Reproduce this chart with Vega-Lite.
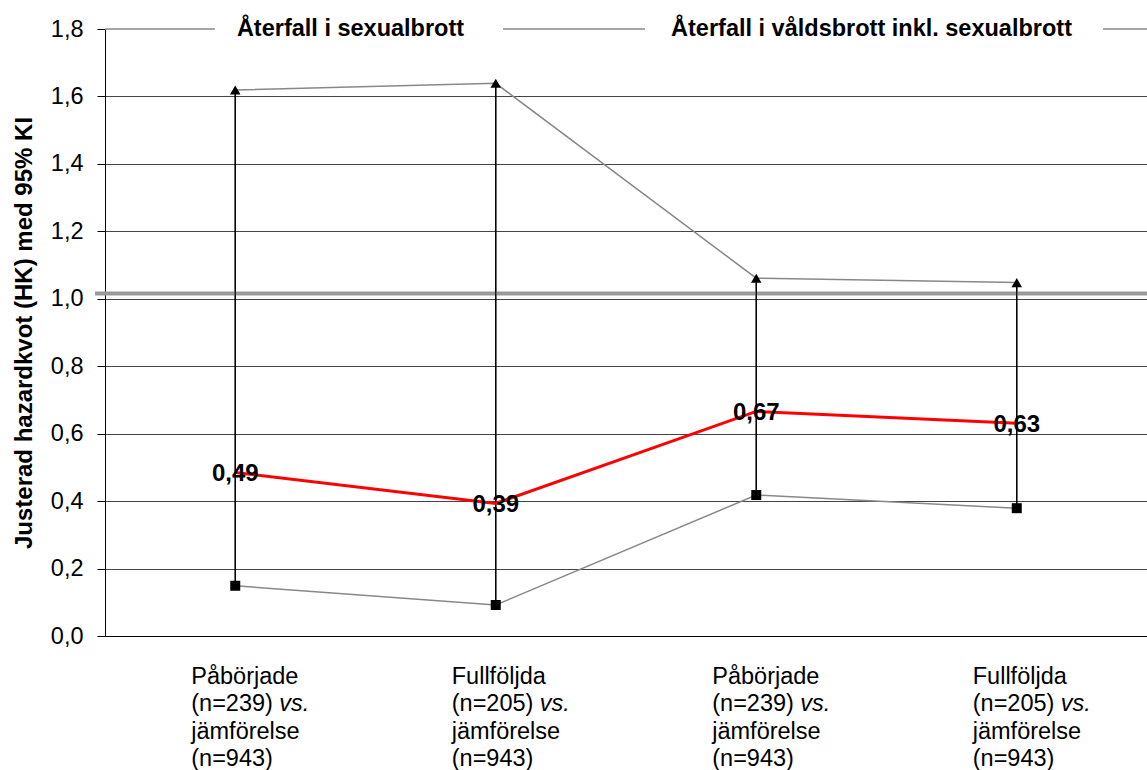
{
  "$schema": "https://vega.github.io/schema/vega-lite/v6.json",
  "width": 1042,
  "height": 607,
  "autosize": {"type": "none"},
  "padding": {"left": 105, "top": 29, "right": 0, "bottom": 134},
  "background": "white",
  "config": {"font": "Liberation Sans", "view": {"stroke": null}},
  "datasets": {
    "est": [
      {"i": 1, "l1": "Påbörjade", "l2": "(n=239)", "l3": "jämförelse", "l4": "(n=943)", "hk": 0.485, "lo": 0.149, "hi": 1.619, "lbl": "0,49"},
      {"i": 2, "l1": "Fullföljda", "l2": "(n=205)", "l3": "jämförelse", "l4": "(n=943)", "hk": 0.393, "lo": 0.092, "hi": 1.639, "lbl": "0,39"},
      {"i": 3, "l1": "Påbörjade", "l2": "(n=239)", "l3": "jämförelse", "l4": "(n=943)", "hk": 0.666, "lo": 0.418, "hi": 1.061, "lbl": "0,67"},
      {"i": 4, "l1": "Fullföljda", "l2": "(n=205)", "l3": "jämförelse", "l4": "(n=943)", "hk": 0.631, "lo": 0.379, "hi": 1.048, "lbl": "0,63"}
    ],
    "headers": [
      {"hx": 1.5, "txt": "Återfall i sexualbrott"},
      {"hx": 3.5, "txt": "Återfall i våldsbrott inkl. sexualbrott"}
    ],
    "segs": [
      {"a": 0.5, "b": 0.922},
      {"a": 2.028, "b": 2.573},
      {"a": 4.331, "b": 4.5}
    ]
  },
  "layer": [
    {
      "data": {"name": "est"},
      "mark": {"type": "rule", "color": "black", "strokeWidth": 1.2},
      "encoding": {
        "x": {
          "field": "i", "type": "quantitative",
          "scale": {"domain": [0.5, 4.5], "nice": false, "zero": false},
          "axis": {"labels": false, "ticks": false, "grid": false, "domainColor": "black", "domainWidth": 1, "title": null}
        },
        "y": {
          "field": "lo", "type": "quantitative",
          "scale": {"domain": [0, 1.8], "nice": false, "zero": true},
          "axis": {
            "values": [0, 0.2, 0.4, 0.6, 0.8, 1, 1.2, 1.4, 1.6, 1.8],
            "labelExpr": "replace(format(datum.value, '.1f'), '.', ',')",
            "labelFont": "Liberation Sans",
            "labelFontSize": 23.5,
            "labelColor": "black",
            "labelFlush": false,
            "labelOverlap": false,
            "labelPadding": 14,
            "tickColor": "black",
            "tickSize": 8,
            "tickWidth": 1,
            "domainColor": "black",
            "domainWidth": 1,
            "grid": true,
            "gridColor": "#444444",
            "gridWidth": 1,
            "gridOpacity": {"condition": {"test": "datum.value > 1.79", "value": 0}, "value": 1},
            "title": "Justerad hazardkvot (HK) med 95% KI",
            "titleFont": "Liberation Sans",
            "titleFontSize": 24,
            "titleFontWeight": "bold",
            "titleColor": "black",
            "titlePadding": 14
          }
        },
        "y2": {"field": "hi"}
      }
    },
    {
      "data": {"values": [{}]},
      "mark": {"type": "rule", "color": "#999999", "strokeWidth": 4},
      "encoding": {
        "x": {"datum": 0.4616, "type": "quantitative"},
        "x2": {"datum": 4.5},
        "y": {"datum": 1.0157, "type": "quantitative"}
      }
    },
    {
      "data": {"name": "segs"},
      "mark": {"type": "rule", "color": "#888888", "strokeWidth": 1.5},
      "encoding": {
        "x": {"field": "a", "type": "quantitative"},
        "x2": {"field": "b"},
        "y": {"datum": 1.8, "type": "quantitative"}
      }
    },
    {
      "data": {"name": "est"},
      "mark": {"type": "rule", "color": "black", "strokeWidth": 1.2},
      "encoding": {
        "x": {"field": "i", "type": "quantitative"},
        "y": {"field": "lo", "type": "quantitative"},
        "y2": {"field": "hi"}
      }
    },
    {
      "data": {"name": "est"},
      "mark": {"type": "line", "color": "#888888", "strokeWidth": 1.5},
      "encoding": {
        "x": {"field": "i", "type": "quantitative"},
        "y": {"field": "hi", "type": "quantitative"}
      }
    },
    {
      "data": {"name": "est"},
      "mark": {"type": "line", "color": "#888888", "strokeWidth": 1.5},
      "encoding": {
        "x": {"field": "i", "type": "quantitative"},
        "y": {"field": "lo", "type": "quantitative"}
      }
    },
    {
      "data": {"name": "est"},
      "mark": {"type": "line", "color": "#ff0000", "strokeWidth": 3},
      "encoding": {
        "x": {"field": "i", "type": "quantitative"},
        "y": {"field": "hk", "type": "quantitative"}
      }
    },
    {
      "data": {"name": "est"},
      "mark": {"type": "point", "shape": "triangle-up", "filled": true, "color": "black", "opacity": 1, "size": 110},
      "encoding": {
        "x": {"field": "i", "type": "quantitative"},
        "y": {"field": "hi", "type": "quantitative"}
      }
    },
    {
      "data": {"name": "est"},
      "mark": {"type": "point", "shape": "square", "filled": true, "color": "black", "opacity": 1, "size": 100},
      "encoding": {
        "x": {"field": "i", "type": "quantitative"},
        "y": {"field": "lo", "type": "quantitative"}
      }
    },
    {
      "data": {"name": "est"},
      "mark": {"type": "text", "font": "Liberation Sans", "fontSize": 24, "fontWeight": "bold", "color": "black", "align": "center", "baseline": "alphabetic", "dy": 9},
      "encoding": {
        "x": {"field": "i", "type": "quantitative"},
        "y": {"field": "hk", "type": "quantitative"},
        "text": {"field": "lbl"}
      }
    },
    {
      "data": {"name": "headers"},
      "mark": {"type": "text", "font": "Liberation Sans", "fontSize": 23.5, "fontWeight": "bold", "color": "black", "align": "center", "baseline": "alphabetic", "dx": -15, "dy": 7},
      "encoding": {
        "x": {"field": "hx", "type": "quantitative"},
        "y": {"datum": 1.8, "type": "quantitative"},
        "text": {"field": "txt"}
      }
    },
    {
      "data": {"name": "est"},
      "mark": {"type": "text", "font": "Liberation Sans", "fontSize": 23.5, "color": "black", "align": "left", "baseline": "alphabetic", "dx": -44, "dy": 48},
      "encoding": {
        "x": {"field": "i", "type": "quantitative"},
        "y": {"datum": 0, "type": "quantitative"},
        "text": {"field": "l1"}
      }
    },
    {
      "data": {"name": "est"},
      "mark": {"type": "text", "font": "Liberation Sans", "fontSize": 23.5, "color": "black", "align": "left", "baseline": "alphabetic", "dx": -44, "dy": 75},
      "encoding": {
        "x": {"field": "i", "type": "quantitative"},
        "y": {"datum": 0, "type": "quantitative"},
        "text": {"field": "l2"}
      }
    },
    {
      "data": {"name": "est"},
      "mark": {"type": "text", "text": "vs.", "font": "Liberation Sans", "fontSize": 23.5, "fontStyle": "italic", "color": "black", "align": "left", "baseline": "alphabetic", "dx": 44, "dy": 75},
      "encoding": {
        "x": {"field": "i", "type": "quantitative"},
        "y": {"datum": 0, "type": "quantitative"}
      }
    },
    {
      "data": {"name": "est"},
      "mark": {"type": "text", "font": "Liberation Sans", "fontSize": 23.5, "color": "black", "align": "left", "baseline": "alphabetic", "dx": -44, "dy": 103},
      "encoding": {
        "x": {"field": "i", "type": "quantitative"},
        "y": {"datum": 0, "type": "quantitative"},
        "text": {"field": "l3"}
      }
    },
    {
      "data": {"name": "est"},
      "mark": {"type": "text", "font": "Liberation Sans", "fontSize": 23.5, "color": "black", "align": "left", "baseline": "alphabetic", "dx": -44, "dy": 130},
      "encoding": {
        "x": {"field": "i", "type": "quantitative"},
        "y": {"datum": 0, "type": "quantitative"},
        "text": {"field": "l4"}
      }
    }
  ]
}
